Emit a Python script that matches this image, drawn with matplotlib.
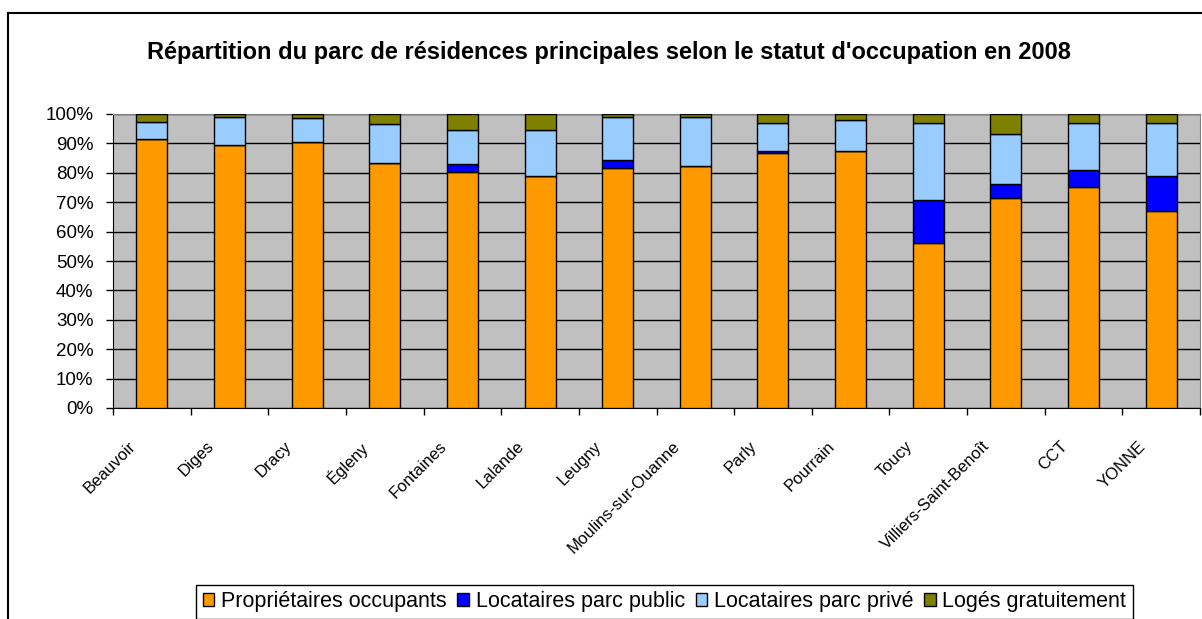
import numpy as np
import matplotlib
matplotlib.use("Agg")
import matplotlib.pyplot as plt
import matplotlib.transforms as mtransforms
from matplotlib.patches import Rectangle, Patch
from matplotlib.ticker import PercentFormatter

plt.rcParams['font.family'] = ['Liberation Sans', 'DejaVu Sans']

# ---------------------------------------------------------------------
# Data (share of main residences, %)
# ---------------------------------------------------------------------
communes = ['Beauvoir', 'Diges', 'Dracy', 'Égleny', 'Fontaines', 'Lalande',
            'Leugny', 'Moulins-sur-Ouanne', 'Parly', 'Pourrain', 'Toucy',
            'Villiers-Saint-Benoît', 'CCT', 'YONNE']

proprietaires = [91.5, 89.5, 90.4, 83.3, 80.3, 78.8, 81.7, 82.3, 86.7, 87.4, 56.0, 71.5, 75.2, 67.0]
loc_public    = [0.0, 0.0, 0.0, 0.0, 2.6, 0.0, 2.7, 0.0, 0.7, 0.0, 14.6, 4.8, 5.6, 11.8]
loc_prive     = [5.7, 9.6, 8.1, 13.2, 11.6, 15.7, 14.7, 16.8, 9.5, 10.7, 26.3, 17.0, 16.1, 18.1]
loges_gratuit = [2.8, 0.9, 1.5, 3.5, 5.5, 5.5, 0.9, 0.9, 3.1, 1.9, 3.1, 6.7, 3.1, 3.1]

series = [
    ('Propriétaires occupants', proprietaires, '#FF9900'),
    ('Locataires parc public', loc_public, '#0000FF'),
    ('Locataires parc privé', loc_prive, '#99CCFF'),
    ('Logés gratuitement', loges_gratuit, '#808000'),
]

# ---------------------------------------------------------------------
# Figure
# ---------------------------------------------------------------------
W, H = 1202, 619
fig = plt.figure(figsize=(W / 100, H / 100), dpi=100)
fig.patch.set_facecolor('white')

ax = fig.add_axes([113 / W, 1 - 408 / H, (1200 - 113) / W, (408 - 114) / H])
ax.set_facecolor('#C0C0C0')

x = np.arange(len(communes))
bottom = np.zeros(len(communes))
for name, vals, col in series:
    vals = np.array(vals)
    ax.bar(x, vals, 0.4, bottom=bottom, color=col, edgecolor='black',
           linewidth=1, label=name, zorder=3)
    bottom += vals

ax.set_xlim(-0.5, len(communes) - 0.5)
ax.set_ylim(0, 100)
ax.set_yticks(np.arange(0, 101, 10))
ax.yaxis.set_major_formatter(PercentFormatter(decimals=0))
ax.grid(axis='y', color='black', lw=1, zorder=1)

# ticks at category boundaries, labels at centres
ax.set_xticks(np.arange(-0.5, len(communes), 1.0))
ax.set_xticklabels([])
ax.set_xticks(x, minor=True)
ax.set_xticklabels(communes, minor=True, rotation=45, ha='right', va='top',
                   fontsize=12)
ax.tick_params(axis='x', which='minor', length=0, pad=22)
ax.tick_params(axis='x', which='major', length=5, width=1, direction='out')
ax.tick_params(axis='y', length=5, width=1, direction='out', labelsize=13.5, pad=9)

offset = mtransforms.ScaledTranslation(-0.13, 0, fig.dpi_scale_trans)
for lbl in ax.get_xticklabels(minor=True):
    lbl.set_transform(lbl.get_transform() + offset)

for side in ['top', 'right']:
    ax.spines[side].set_color('#808080')
for side in ['left', 'bottom']:
    ax.spines[side].set_color('black')

fig.text(0.507, 1 - 52 / H, "Répartition du parc de résidences principales selon le statut d'occupation en 2008",
         ha='center', va='center', fontsize=17, fontweight='bold')

# outer chart border (cut by the image edge at right and bottom)
fig.patches.append(Rectangle((8 / W, -0.1), 1.2, 1 - 13 / H + 0.1,
                             transform=fig.transFigure, fill=False,
                             edgecolor='black', lw=1.5, clip_on=False))

handles = [Patch(facecolor=c, edgecolor='black', lw=1) for _, _, c in series]
leg = fig.legend(handles, [n for n, _, _ in series], ncol=4, loc='upper center',
                 bbox_to_anchor=((196 + 1133) / 2 / W, 1 - 585 / H),
                 fontsize=15.5, frameon=True, fancybox=False, framealpha=1,
                 edgecolor='black', handlelength=0.55, handleheight=0.55,
                 handletextpad=0.3, columnspacing=0.5, borderpad=0.3,
                 borderaxespad=0)
leg.get_frame().set_linewidth(1)

fig.savefig('out.png', dpi=100)
